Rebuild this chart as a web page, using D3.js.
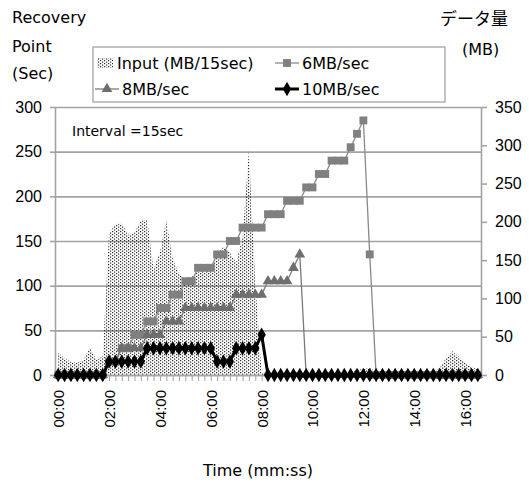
<!DOCTYPE html>
<html>
<head>
<meta charset="utf-8">
<script src="https://cdn.jsdelivr.net/npm/d3@7"></script>
<style>
  body { margin: 0; background: #fff; }
  svg { font-family: 'DejaVu Sans', sans-serif; }
</style>
</head>
<body>
<div id="chart"></div>
<script>
// DATA (one value every 15 sec, 00:00 -> 16:30)
const tickLabels = ['00:00', '02:00', '04:00', '06:00', '08:00', '10:00', '12:00', '14:00', '16:00'];
const leftTicks = [0, 50, 100, 150, 200, 250, 300];
const rightTicks = [0, 50, 100, 150, 200, 250, 300, 350];

// Input (MB/15sec), right axis
const inputMB = [
  29, 22, 17, 16, 20, 36, 20, 24,
  185, 197, 198, 183, 186, 201, 203, 138,
  160, 202, 152, 132, 125, 128, 135, 137,
  137, 155, 168, 160, 147, 180, 294, 120,
  2, 4, 3, 4, 3, 4, 3, 4,
  3, 4, 3, 4, 3, 4, 5, 6,
  8, 9, 4, 3, 4, 3, 4, 3,
  4, 3, 4, 4, 9, 22, 31, 24,
  16, 10, 8
];
// Recovery point (sec), left axis
const rp6 = [
  0, 0, 0, 0, 0, 0, 0, 0,
  15, 15, 30, 30, 45, 45, 60, 60,
  75, 75, 90, 90, 105, 105, 120, 120,
  120, 135, 135, 150, 150, 165, 165, 165,
  165, 180, 180, 180, 195, 195, 195, 210,
  210, 225, 225, 240, 240, 240, 255, 270,
  285, 135, 0, 0, 0, 0, 0, 0,
  0, 0, 0, 0, 0, 0, 0, 0,
  0, 0, 0
];
const rp8 = [
  0, 0, 0, 0, 0, 0, 0, 0,
  15, 15, 30, 30, 30, 30, 45, 45,
  45, 60, 60, 60, 75, 75, 75, 75,
  75, 75, 75, 75, 90, 90, 90, 90,
  90, 105, 105, 105, 105, 120, 135, 0,
  0, 0, 0, 0, 0, 0, 0, 0,
  0, 0, 0, 0, 0, 0, 0, 0,
  0, 0, 0, 0, 0, 0, 0, 0,
  0, 0, 0
];
const rp10 = [
  0, 0, 0, 0, 0, 0, 0, 0,
  15, 15, 15, 15, 15, 15, 30, 30,
  30, 30, 30, 30, 30, 30, 30, 30,
  30, 15, 15, 15, 30, 30, 30, 30,
  45, 0, 0, 0, 0, 0, 0, 0,
  0, 0, 0, 0, 0, 0, 0, 0,
  0, 0, 0, 0, 0, 0, 0, 0,
  0, 0, 0, 0, 0, 0, 0, 0,
  0, 0, 0
];

document.addEventListener('DOMContentLoaded', function(){
  drawChart();
});

// toTime
// seconds -> 'mm:ss'
function toTime(sec) {
  let m = Math.floor(sec / 60);
  let s = sec % 60;
  return String(m).padStart(2, '0') + ':' + String(s).padStart(2, '0');
}

// drawSeries
// draw one recovery point line with its markers
function drawSeries(svg, values, times, x, y, opt) {
  let line = d3.line().x((d, i) => x(times[i])).y(d => y(d));
  let g = svg.append('g').classed('series', true);
  g.append('path').datum(values)
    .attr('d', line)
    .attr('fill', 'none')
    .attr('stroke', opt.stroke)
    .attr('stroke-width', opt.width);
  g.selectAll('.mark')
    .data(values)
    .enter()
    .append('path')
    .attr('class', 'mark')
    .attr('d', d3.symbol(opt.symbol).size(opt.size))
    .attr('fill', opt.fill)
    .attr('transform', (d, i) => 'translate(' + x(times[i]) + ',' + y(d) + ')');
}

// series styles, shared with the legend
const styles = {
  rp6: {stroke: '#8a8a8a', width: 1.3, symbol: d3.symbolSquare, size: 62, fill: '#808080'},
  rp8: {stroke: '#7a7a7a', width: 1.3, symbol: d3.symbolTriangle, size: 50, fill: '#6e6e6e'},
  rp10: {stroke: '#000', width: 3, symbol: d3.symbolDiamond, size: 60, fill: '#000'}
};

function drawChart() {
  // Setup
  const width = 529, height = 486;
  const margin = {left: 55, top: 107, right: 48, bottom: 111};
  const plotW = width - margin.left - margin.right;
  const plotH = height - margin.top - margin.bottom;
  const gridColor = '#a3a3a3';

  let svg = d3.select('#chart').append('svg')
    .attr('width', width)
    .attr('height', height);

  // dotted fill for the input area
  let pat = svg.append('defs').append('pattern')
    .attr('id', 'dots')
    .attr('width', 4).attr('height', 3)
    .attr('patternUnits', 'userSpaceOnUse');
  pat.append('rect').attr('x', 0).attr('y', 0).attr('width', 1.2).attr('height', 1.2).attr('fill', '#2a2a2a');
  pat.append('rect').attr('x', 2).attr('y', 1.5).attr('width', 1.2).attr('height', 1.2).attr('fill', '#2a2a2a');

  // Scales
  let times = inputMB.map((d, i) => toTime(i * 15));
  let x = d3.scalePoint().domain(times).range([margin.left, margin.left + plotW]).padding(0.5);
  let yLeft = d3.scaleLinear().domain([0, 300]).range([margin.top + plotH, margin.top]);
  let yRight = d3.scaleLinear().domain([0, 350]).range([margin.top + plotH, margin.top]);

  // Gridlines
  svg.append('g').classed('grid', true)
    .attr('transform', 'translate(' + margin.left + ',0)')
    .call(d3.axisLeft(yLeft).tickValues(leftTicks).tickSize(-plotW).tickFormat(''))
    .call(g => g.select('.domain').remove())
    .selectAll('line').attr('stroke', gridColor).attr('stroke-width', 1.6);

  // Input area
  let area = d3.area()
    .x((d, i) => x(times[i]))
    .y0(yRight(0))
    .y1(d => yRight(d));
  svg.append('path').datum(inputMB)
    .attr('d', area)
    .attr('fill', 'url(#dots)');

  // X axis
  let xAx = svg.append('g').classed('x-axis', true)
    .attr('transform', 'translate(0,' + (margin.top + plotH) + ')')
    .call(d3.axisBottom(x).tickSize(6).tickSizeOuter(0).tickFormat(d => tickLabels.includes(d) ? d : ''));
  xAx.select('.domain').attr('stroke', gridColor).attr('stroke-width', 1.6);
  xAx.selectAll('line').attr('stroke', gridColor);
  xAx.selectAll('text')
    .attr('font-size', 15)
    .attr('fill', '#000')
    .attr('transform', 'rotate(-90)')
    .attr('text-anchor', 'end')
    .attr('x', -15)
    .attr('y', 0)
    .attr('dy', '0.36em');

  // Left axis
  let lAx = svg.append('g').classed('left-axis', true)
    .attr('transform', 'translate(' + margin.left + ',0)')
    .call(d3.axisLeft(yLeft).tickValues(leftTicks).tickSize(5).tickSizeOuter(0).tickPadding(8));
  lAx.select('.domain').attr('stroke', gridColor).attr('stroke-width', 1.6);
  lAx.selectAll('line').attr('stroke', gridColor).attr('stroke-width', 1.6);
  lAx.selectAll('text').attr('font-size', 16).attr('fill', '#000');

  // Right axis
  let rAx = svg.append('g').classed('right-axis', true)
    .attr('transform', 'translate(' + (margin.left + plotW) + ',0)')
    .call(d3.axisRight(yRight).tickValues(rightTicks).tickSize(6).tickSizeOuter(0).tickPadding(8));
  rAx.select('.domain').attr('stroke', gridColor).attr('stroke-width', 1.6);
  rAx.selectAll('line').attr('stroke', gridColor).attr('stroke-width', 1.6);
  rAx.selectAll('text').attr('font-size', 16).attr('fill', '#000');

  // Lines
  drawSeries(svg, rp6, times, x, yLeft, styles.rp6);
  drawSeries(svg, rp8, times, x, yLeft, styles.rp8);
  drawSeries(svg, rp10, times, x, yLeft, styles.rp10);

  // Texts
  let txt = svg.append('g').classed('titles', true).attr('font-size', 16).attr('fill', '#000');
  txt.append('text').attr('x', 12).attr('y', 23).text('Recovery');
  txt.append('text').attr('x', 12).attr('y', 52).text('Point');
  txt.append('text').attr('x', 12).attr('y', 79).text('(Sec)');
  txt.append('text').attr('x', 440).attr('y', 25)
    .attr('font-family', "'Noto Sans CJK JP', sans-serif").attr('font-size', 17).text('データ量');
  txt.append('text').attr('x', 462).attr('y', 55).text('(MB)');
  txt.append('text').attr('x', 72).attr('y', 136).attr('font-size', 14).text('Interval =15sec');
  txt.append('text').attr('x', 258).attr('y', 476).attr('text-anchor', 'middle').text('Time (mm:ss)');

  // Legend
  let lg = svg.append('g').classed('legend', true).attr('font-size', 16);
  lg.append('rect').attr('x', 93).attr('y', 47).attr('width', 352).attr('height', 55)
    .attr('fill', '#fff').attr('stroke', gridColor).attr('stroke-width', 1.3);
  lg.append('rect').attr('x', 97).attr('y', 58).attr('width', 16).attr('height', 10).attr('fill', 'url(#dots)');
  lg.append('text').attr('x', 117).attr('y', 69).text('Input (MB/15sec)');

  let items = [
    {x: 275, y: 63, label: '6MB/sec', st: styles.rp6},
    {x: 95, y: 89, label: '8MB/sec', st: styles.rp8},
    {x: 275, y: 89, label: '10MB/sec', st: styles.rp10}
  ];
  items.forEach(it => {
    lg.append('line').attr('x1', it.x).attr('x2', it.x + 24).attr('y1', it.y).attr('y2', it.y)
      .attr('stroke', it.st.stroke).attr('stroke-width', it.st.width);
    lg.append('path').attr('d', d3.symbol(it.st.symbol).size(it.st.size)())
      .attr('fill', it.st.fill).attr('transform', 'translate(' + (it.x + 12) + ',' + it.y + ')');
    lg.append('text').attr('x', it.x + 27).attr('y', it.y + 6).text(it.label);
  });
}
</script>
</body>
</html>
